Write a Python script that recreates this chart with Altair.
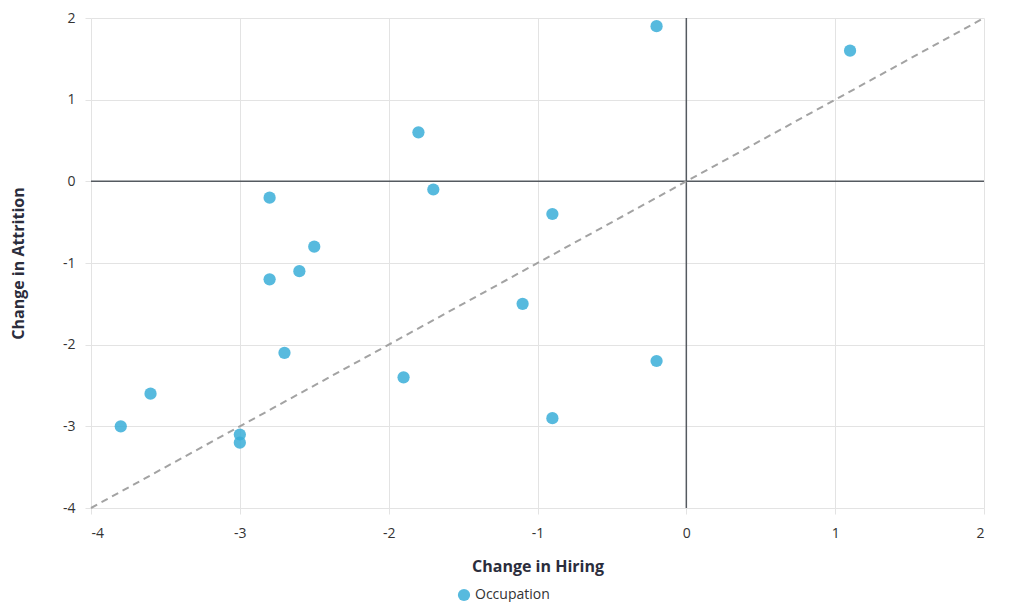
import altair as alt
import pandas as pd

hiring = [-0.2, 1.1, -1.8, -1.7, -2.8, -0.9, -2.5, -2.6, -2.8, -1.1, -2.7, -0.2, -1.9, -3.6, -0.9, -3.8, -3.0, -3.0]
attrition = [1.9, 1.6, 0.6, -0.1, -0.2, -0.4, -0.8, -1.1, -1.2, -1.5, -2.1, -2.2, -2.4, -2.6, -2.9, -3.0, -3.1, -3.2]
series_name = "Occupation"
diag_vals = [-4, 2]
tick_vals = [-4, -3, -2, -1, 0, 1, 2]

pts = pd.DataFrame({"hiring": hiring, "attrition": attrition, "series": [series_name] * len(hiring)})
diag = pd.DataFrame({"hiring": diag_vals, "attrition": diag_vals})
zero = pd.DataFrame({"v": [0]})

FONT = "Open Sans"
xs = alt.Scale(domain=[-4, 2], nice=False, zero=False)
ys = alt.Scale(domain=[-4, 2], nice=False, zero=False)

xaxis = alt.Axis(title="Change in Hiring", values=tick_vals, grid=True,
                 gridColor="#e3e3e3", domain=False, tickColor="#e3e3e3", tickSize=6,
                 labelFont=FONT, labelFontSize=14, labelColor="#333333", labelPadding=12,
                 labelExpr="datum.value + ''",
                 titleFont=FONT, titleFontSize=16, titleFontWeight="bold", titleColor="#2b2d3c",
                 titlePadding=18)
yaxis = alt.Axis(title="Change in Attrition", values=tick_vals, grid=True,
                 gridColor="#e3e3e3", domain=False, tickColor="#e3e3e3", tickSize=6,
                 labelFont=FONT, labelFontSize=14, labelColor="#333333", labelPadding=10,
                 labelExpr="datum.value + ''",
                 titleFont=FONT, titleFontSize=16, titleFontWeight="bold", titleColor="#2b2d3c",
                 titlePadding=36)

base_axes = alt.Chart(zero).mark_rule(opacity=0).encode(
    x=alt.X("v:Q", scale=xs, axis=xaxis),
    y=alt.Y("v:Q", scale=ys, axis=yaxis),
)

vline = alt.Chart(zero).mark_rule(color="#555a60", strokeWidth=1.5).encode(x=alt.X("v:Q", scale=xs))
hline = alt.Chart(zero).mark_rule(color="#555a60", strokeWidth=1.5).encode(y=alt.Y("v:Q", scale=ys))

diag_line = alt.Chart(diag).mark_line(color="#a3a3a3", strokeDash=[7, 5], strokeWidth=2).encode(
    x=alt.X("hiring:Q", scale=xs),
    y=alt.Y("attrition:Q", scale=ys),
)

points = alt.Chart(pts).mark_circle(size=150, opacity=0.85).encode(
    x=alt.X("hiring:Q", scale=xs),
    y=alt.Y("attrition:Q", scale=ys),
    color=alt.Color("series:N", scale=alt.Scale(range=["#3aaed8"]),
                    legend=alt.Legend(title=None, orient="none", legendX=366, legendY=570,
                                      labelFont=FONT, labelFontSize=14, labelColor="#333333",
                                      symbolSize=150, symbolOpacity=0.85)),
)

chart = alt.layer(base_axes, vline, hline, diag_line, points).properties(
    width=893, height=490,
    autosize=alt.AutoSizeParams(type="none"),
    padding={"left": 83, "top": 10, "right": 20, "bottom": 94},
).configure_view(stroke=None)

chart.save("out.html", embed_options={"renderer": "svg", "actions": False})
